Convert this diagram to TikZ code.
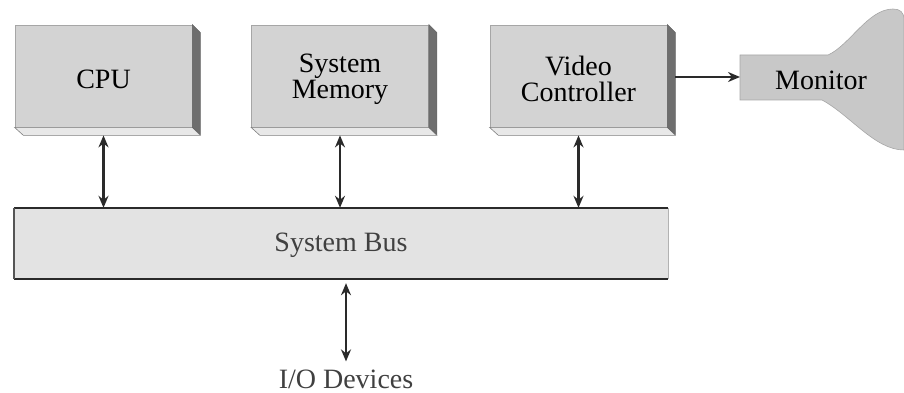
\documentclass[tikz,border=0pt]{standalone}
\usepackage{fontspec}
\setmainfont{Liberation Serif}
\usetikzlibrary{arrows.meta}
\definecolor{face}{HTML}{D3D3D3}
\definecolor{sidec}{HTML}{6E6E6E}
\definecolor{bottomc}{HTML}{E8E8E8}
\definecolor{busc}{HTML}{E3E3E3}
\definecolor{monc}{HTML}{C8C8C8}
\definecolor{linec}{HTML}{2A2A2A}
\tikzset{
  box/.style={draw=gray!70, line width=0.8pt, fill=face, minimum width=177pt, minimum height=102pt,
    inner sep=0pt},
  boxtext/.style={align=center, font=\fontsize{28}{26}\selectfont, text=black, inner sep=0pt},
  sideface/.style={fill=sidec, draw=gray!80!black, line width=0.6pt},
  bottomface/.style={fill=bottomc, draw=gray, line width=0.6pt},
  busbox/.style={fill=busc, draw=none, minimum width=654pt, minimum height=71pt, inner sep=0pt},
  dbl/.style={{Stealth[length=12pt,width=10pt]}-{Stealth[length=12pt,width=10pt]}, line width=2.8pt, draw=linec},
  sgl/.style={-{Stealth[length=12pt,width=10pt]}, line width=2.8pt, draw=linec},
  lbl/.style={font=\fontsize{28}{26}\selectfont, text=black!75, inner sep=0pt}
}
\begin{document}
\begin{tikzpicture}[x=1pt,y=-1pt]
\useasboundingbox (0,0) rectangle (904,393);
% boxes
\foreach \nm/\cx/\txt in {cpu/103.5/CPU, mem/340/{System\\Memory}, vid/578.5/{Video\\Controller}}{
  \node[box] (\nm) at (\cx,76) {};
  \fill[bottomface] (\nm.south west) -- (\nm.south east) -- ++(8,8) -- ++(-177,0) -- cycle;
  \fill[sideface] (\nm.north east) -- ++(8,8) -- ++(0,102) -- (\nm.south east) -- cycle;
  \node[boxtext] (\nm-t) at (\cx,79) {\txt};
}
% system bus
\node[busbox] (bus) at (341,243.5) {};
\node[lbl] (bus-t) at (341,245) {System Bus};
\draw[linec, line width=2.2pt] (bus.north west) -- (bus.north east);
\draw[linec, line width=2.2pt] (bus.south west) -- (bus.south east);
\draw[linec!80, line width=2.2pt] (bus.north west) -- (bus.south west);
\draw[gray!60, line width=0.6pt] (bus.north east) -- (bus.south east);
% monitor
\path[fill=monc, draw=gray!70, line width=0.6pt]
  (740,55) -- (828,55) .. controls (850,45) and (868,9) .. (893,9)
  .. controls (900,9) and (904,12) .. (904,20) -- (904,150)
  .. controls (875,150) and (850,115) .. (822,100) -- (740,100) -- cycle;
\node[lbl, text=black] (mon) at (821,80) {Monitor};
\coordinate (monin) at (740,77);
% I/O
\node[lbl] (io) at (346,379) {I/O Devices};
% connectors
\draw[dbl] ([yshift=-8pt]cpu.south) -- (cpu.south |- bus.north);
\draw[dbl] ([yshift=-8pt]mem.south) -- (mem.south |- bus.north);
\draw[dbl] ([yshift=-8pt]vid.south) -- (vid.south |- bus.north);
\draw[sgl] ([xshift=8pt,yshift=-1pt]vid.east) -- (monin);
\coordinate (iotop) at ([yshift=8pt]io.north);
\draw[dbl] ([yshift=-4pt]bus.south -| iotop) -- (iotop);
\end{tikzpicture}
\end{document}
